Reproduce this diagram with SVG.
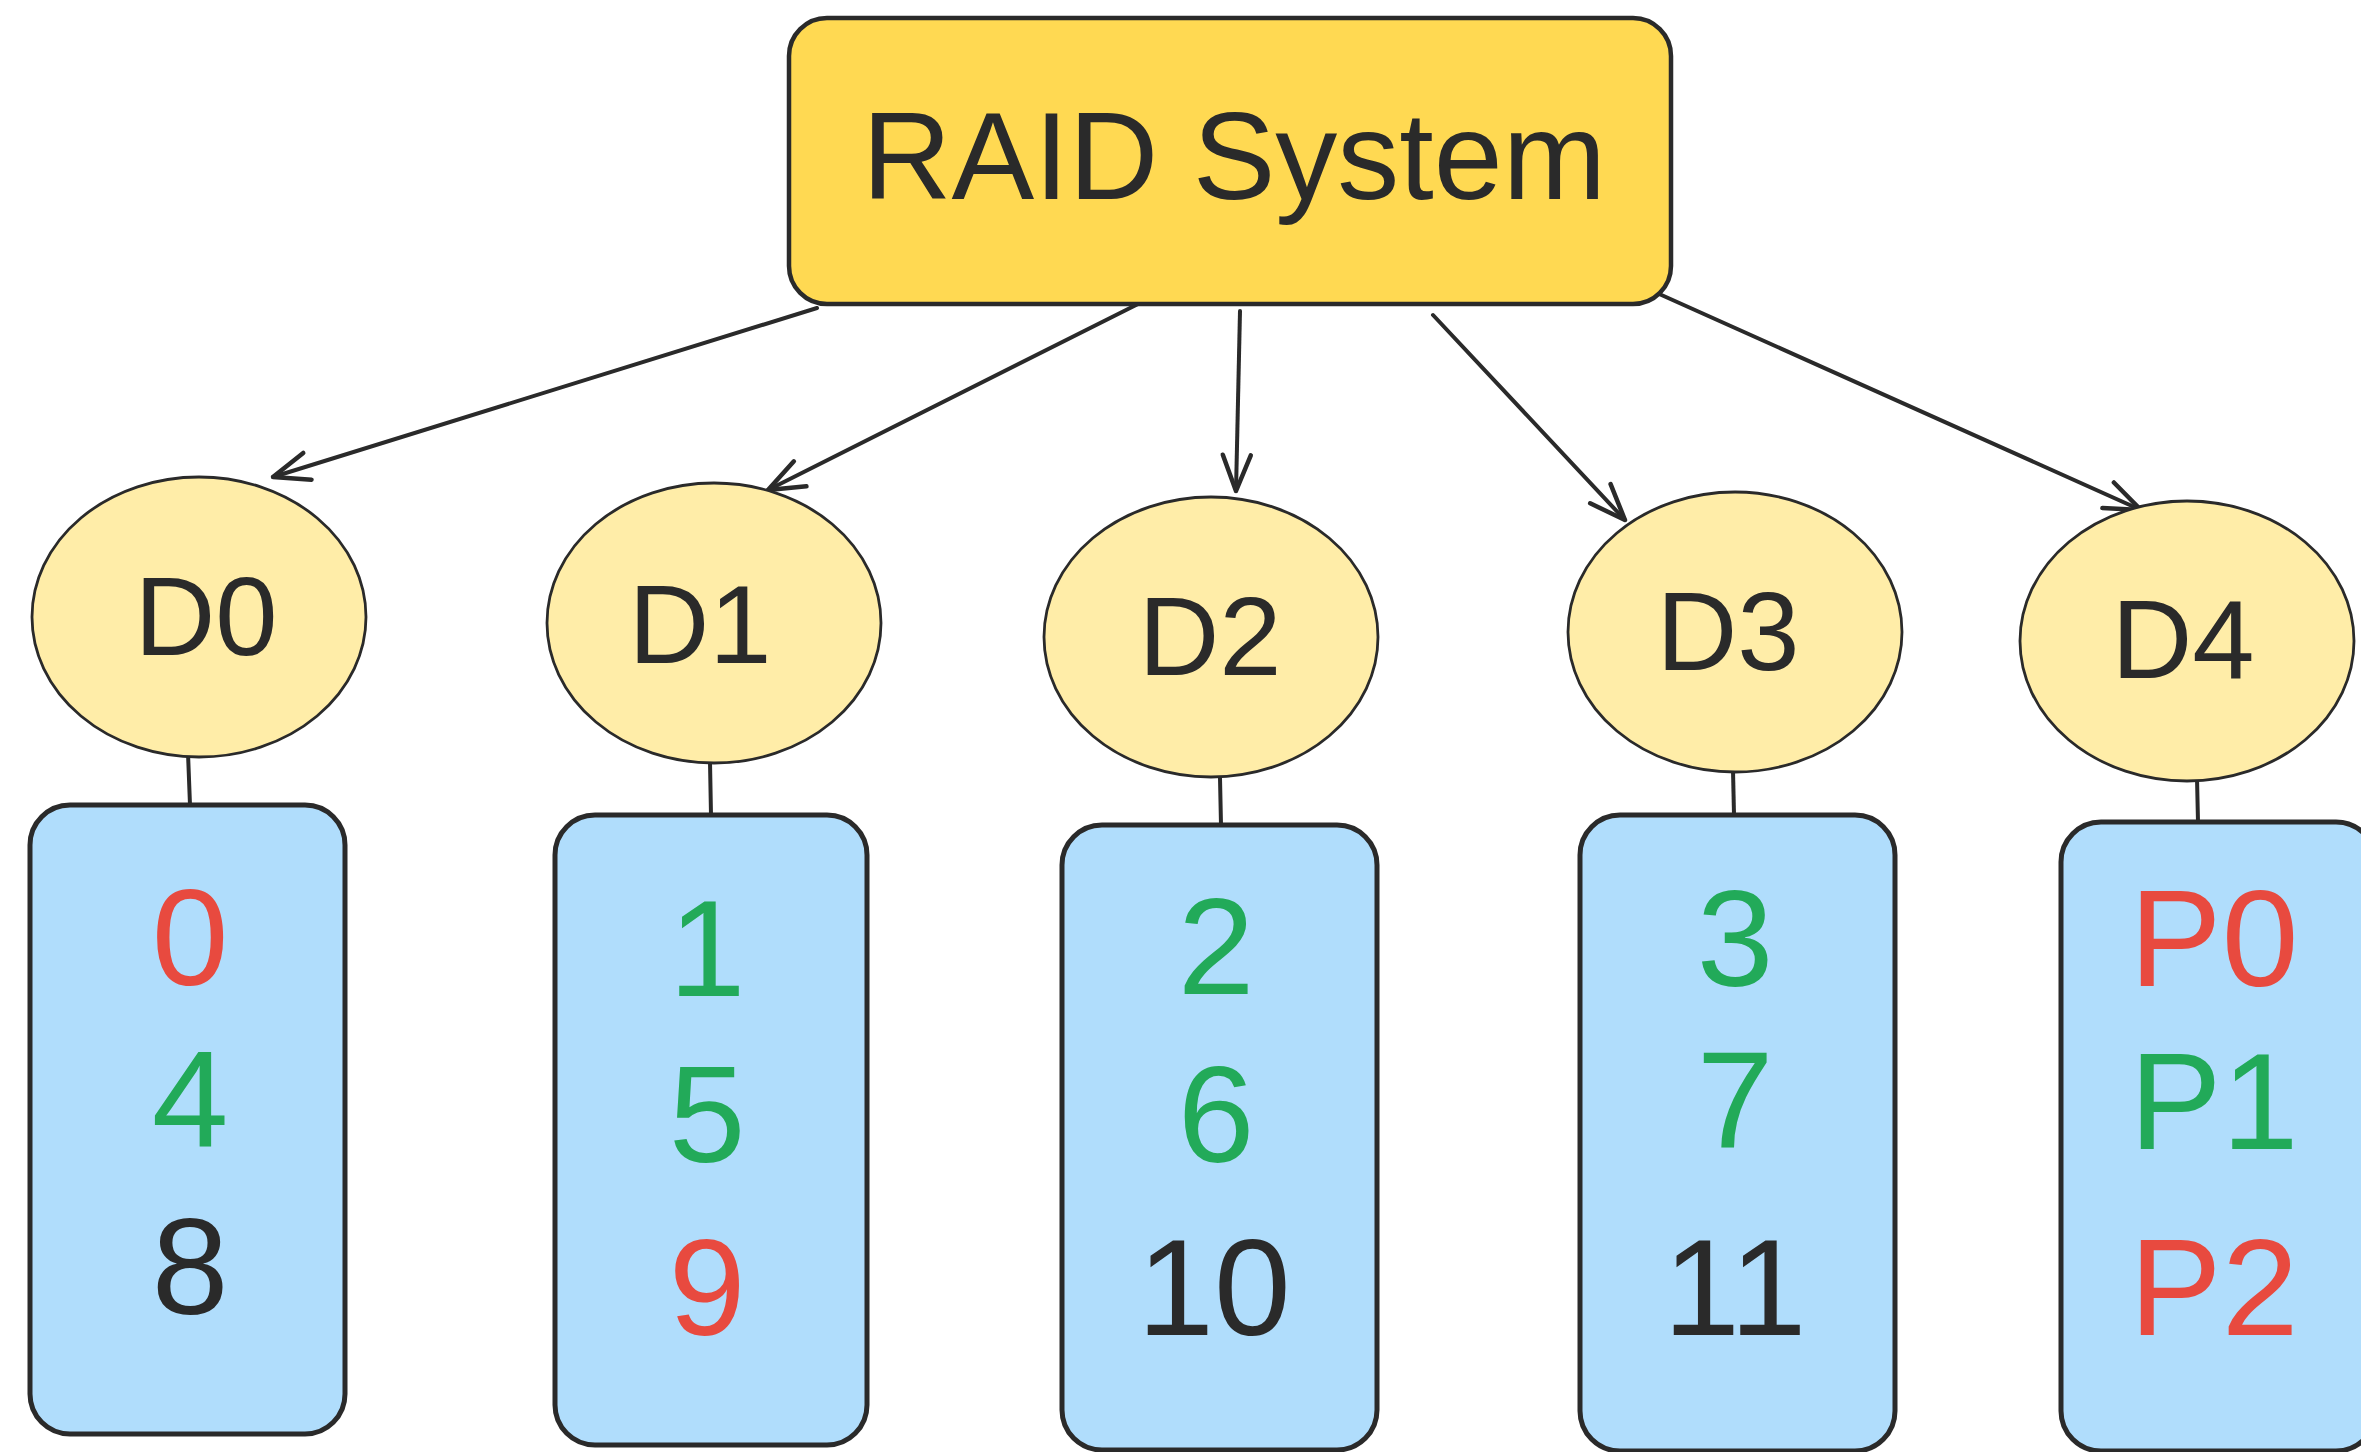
<svg xmlns="http://www.w3.org/2000/svg" width="2361" height="1452" viewBox="0 0 2361 1452">
<style>
.root{fill:#ffd952;stroke:#2a2a2a;stroke-width:4.5}
.disk{fill:#ffeda8;stroke:#2a2a2a;stroke-width:2.8}
.col{fill:#b0ddfc;stroke:#2a2a2a;stroke-width:5}
.conn{stroke:#2a2a2a;stroke-width:4;fill:none;stroke-linecap:round}
.t{font-family:"Liberation Sans","DejaVu Sans",sans-serif;text-anchor:middle}
.big{font-size:124px;fill:#2a2a2a}
.lbl{font-size:112px;fill:#2a2a2a}
.num{font-size:138px}
.r{fill:#e84a3f}
.g{fill:#22aa59}
.k{fill:#2a2a2a}
</style>
<defs>
<marker id="arr" markerUnits="userSpaceOnUse" markerWidth="80" markerHeight="80" refX="0" refY="0" orient="auto" overflow="visible">
<path d="M -36 -14 L 0 0 L -36 14" fill="none" stroke="#2a2a2a" stroke-width="4.5" stroke-linecap="round" stroke-linejoin="round"/>
</marker>
</defs>
<rect width="2361" height="1452" fill="#ffffff"/>

<g id="connectors">
<line class="conn" x1="817" y1="308" x2="273" y2="477" marker-end="url(#arr)"/>
<line class="conn" x1="1144" y1="301" x2="768" y2="490" marker-end="url(#arr)"/>
<line class="conn" x1="1240" y1="311" x2="1236" y2="491" marker-end="url(#arr)"/>
<line class="conn" x1="1433" y1="315" x2="1625" y2="520" marker-end="url(#arr)"/>
<line class="conn" x1="1657" y1="293" x2="2141" y2="510" marker-end="url(#arr)"/>
<line class="conn" x1="188" y1="753" x2="190" y2="805"/>
<line class="conn" x1="710" y1="762" x2="711" y2="815"/>
<line class="conn" x1="1220" y1="778" x2="1221" y2="825"/>
<line class="conn" x1="1733" y1="770" x2="1734" y2="815"/>
<line class="conn" x1="2197" y1="778" x2="2198" y2="822"/>
</g>

<g id="raid">
<rect class="root" x="789" y="18" width="882" height="286" rx="38"/>
<text class="t big" x="1234" y="199">RAID System</text>
</g>

<g id="d0">
<ellipse class="disk" cx="199" cy="617" rx="167" ry="140"/>
<text class="t lbl" x="206" y="655">D0</text>
</g>
<g id="d1">
<ellipse class="disk" cx="714" cy="623" rx="167" ry="140"/>
<text class="t lbl" x="700" y="663">D1</text>
</g>
<g id="d2">
<ellipse class="disk" cx="1211" cy="637" rx="167" ry="140"/>
<text class="t lbl" x="1210" y="675">D2</text>
</g>
<g id="d3">
<ellipse class="disk" cx="1735" cy="632" rx="167" ry="140"/>
<text class="t lbl" x="1728" y="670">D3</text>
</g>
<g id="d4">
<ellipse class="disk" cx="2187" cy="641" rx="167" ry="140"/>
<text class="t lbl" x="2183" y="678">D4</text>
</g>

<g id="col0">
<rect class="col" x="30" y="805" width="315" height="629" rx="40"/>
<text class="t num r" x="190" y="985">0</text>
<text class="t num g" x="190" y="1146">4</text>
<text class="t num k" x="190" y="1314">8</text>
</g>
<g id="col1">
<rect class="col" x="555" y="815" width="312" height="630" rx="40"/>
<text class="t num g" x="707" y="996">1</text>
<text class="t num g" x="707" y="1162">5</text>
<text class="t num r" x="707" y="1335">9</text>
</g>
<g id="col2">
<rect class="col" x="1062" y="825" width="315" height="625" rx="40"/>
<text class="t num g" x="1216" y="994">2</text>
<text class="t num g" x="1216" y="1162">6</text>
<text class="t num k" x="1214" y="1335">10</text>
</g>
<g id="col3">
<rect class="col" x="1580" y="815" width="315" height="636" rx="40"/>
<text class="t num g" x="1735" y="986">3</text>
<text class="t num g" x="1735" y="1147">7</text>
<text class="t num k" x="1735" y="1335">11</text>
</g>
<g id="col4">
<rect class="col" x="2061" y="822" width="315" height="629" rx="40"/>
<text class="t num r" x="2214" y="986">P0</text>
<text class="t num g" x="2214" y="1149">P1</text>
<text class="t num r" x="2214" y="1335">P2</text>
</g>
</svg>
